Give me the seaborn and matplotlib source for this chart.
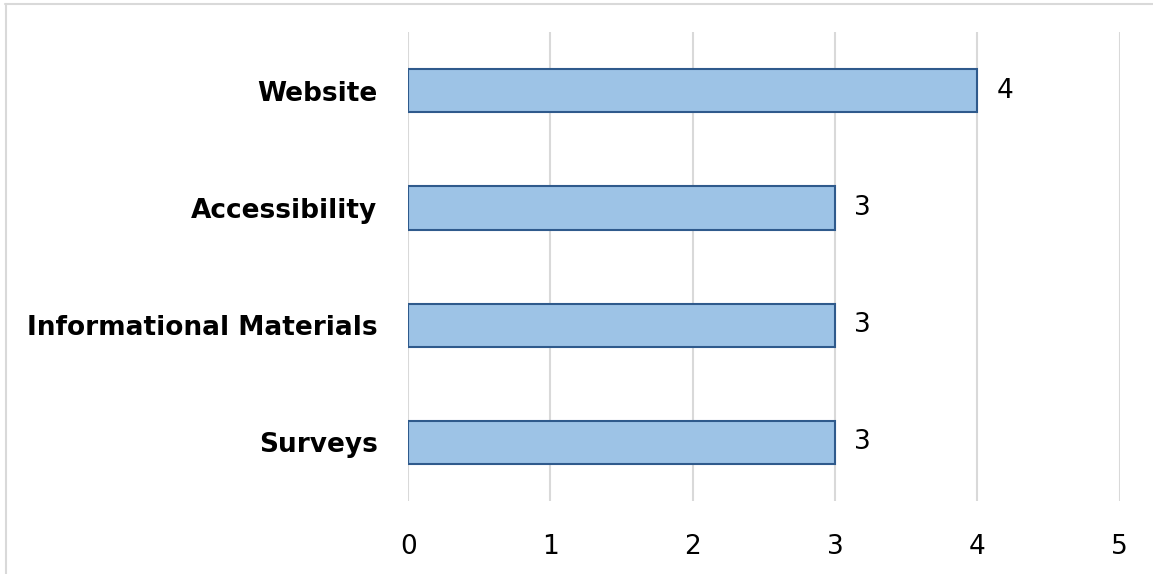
import pandas as pd
import matplotlib
matplotlib.use("Agg")
import matplotlib.pyplot as plt
import seaborn as sns
from matplotlib.lines import Line2D

# data
categories = ["Website", "Accessibility", "Informational Materials", "Surveys"]
counts = [4, 3, 3, 3]
x_ticks = [0, 1, 2, 3, 4, 5]

df = pd.DataFrame({"Category": categories, "Count": counts})

sns.set_style("white")
plt.rcParams["font.family"] = ["DejaVu Sans"]
plt.rcParams["text.color"] = "black"
plt.rcParams["xtick.color"] = "black"
plt.rcParams["ytick.color"] = "black"

fig = plt.figure(figsize=(11.53, 5.74), dpi=100)
ax = fig.add_axes([0.354, 0.127, 0.617, 0.817])

sns.barplot(data=df, x="Count", y="Category", orient="h", color="#9DC3E6",
            edgecolor="#2F5A8C", linewidth=1.5, width=0.37, saturation=1, ax=ax)

ax.set_xlim(0, 5)
ax.set_xticks(x_ticks)
ax.set_xticklabels([str(t) for t in x_ticks], fontsize=19)
ax.tick_params(axis="x", length=0, pad=24, labelcolor="black")
ax.tick_params(axis="y", length=0, pad=22, labelcolor="black")
for lbl in ax.get_yticklabels():
    lbl.set_fontsize(19)
    lbl.set_fontweight("bold")
ax.set_xlabel("")
ax.set_ylabel("")

ax.grid(axis="x", color="#D9D9D9", linewidth=1.5)
ax.set_axisbelow(True)
sns.despine(ax=ax, left=True, bottom=True)

for c in ax.containers:
    ax.bar_label(c, fmt="%d", padding=14, fontsize=19, color="black")

# outer chart border (top and left visible)
fig.add_artist(Line2D([5 / 1153, 1], [1 - 4 / 574, 1 - 4 / 574],
                      transform=fig.transFigure, color="#D9D9D9", linewidth=1.5))
fig.add_artist(Line2D([6 / 1153, 6 / 1153], [0, 1 - 4 / 574],
                      transform=fig.transFigure, color="#D9D9D9", linewidth=1.5))

fig.savefig("out.png", dpi=100)
